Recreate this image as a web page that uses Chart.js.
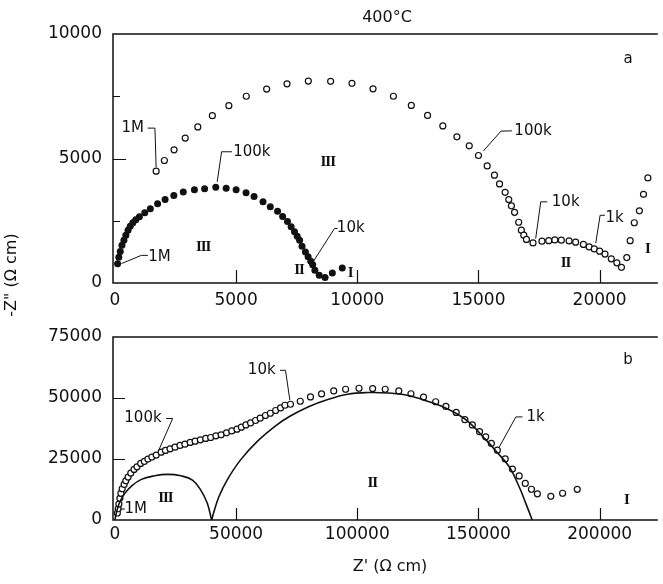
<!DOCTYPE html>
<html>
<head>
<meta charset="utf-8">
<script src="https://cdn.jsdelivr.net/npm/chart.js@4/dist/chart.umd.min.js"></script>
<style>
  html, body { margin: 0; padding: 0; background: #fff; }
  #wrap { position: relative; width: 663px; height: 584px; }
  #wrap canvas { position: absolute; left: 0; top: 0; }
</style>
</head>
<body>
<div id="wrap">
  <canvas id="chartA" width="663" height="584"></canvas>
  <canvas id="chartB" width="663" height="584"></canvas>
</div>
<script>
// panel a, open circles
const openA_x = [1700,2040,2440,2900,3420,4020,4700,5420,6260,7100,7980,8900,9780,10650,11490,12230,12900,13530,14110,14620,15000,15360,15660,15870,16100,16250,16360,16490,16660,16770,16870,16980,17250,17620,17900,18150,18420,18740,19010,19330,19570,19780,20000,20220,20480,20710,20900,21120,21260,21430,21640,21810,21990];
const openA_y = [4490,4920,5350,5820,6270,6720,7120,7500,7790,8000,8110,8100,8020,7800,7500,7130,6730,6310,5870,5510,5120,4700,4330,3980,3640,3350,3100,2840,2440,2120,1920,1750,1610,1680,1700,1730,1720,1690,1640,1550,1450,1370,1280,1160,970,810,630,1020,1700,2420,2900,3560,4220];

// panel a, filled circles
const filledA_x = [110,160,220,290,370,450,540,630,740,860,1010,1230,1460,1760,2070,2430,2820,3280,3700,4160,4590,5000,5410,5740,6110,6410,6710,6920,7120,7270,7410,7520,7620,7720,7860,7970,8080,8160,8250,8430,8670,8970,9380];
const filledA_y = [770,1030,1270,1520,1720,1920,2120,2280,2420,2540,2660,2820,2980,3180,3350,3510,3650,3740,3790,3850,3810,3750,3620,3470,3260,3060,2880,2670,2470,2260,2060,1880,1720,1480,1250,1050,870,730,510,310,220,400,600];

// panel b, open circles
const openB_x = [1000,1350,1630,2040,2450,2980,3800,4490,5430,6540,7880,9110,10620,12130,13600,15240,17030,19080,20830,22750,24800,26840,28880,31050,33090,35250,37460,39500,41670,43830,46040,48200,50370,52170,54040,55960,58010,59930,62090,64130,66300,68340,70140,72430,76470,80680,85250,90280,95180,100700,106330,111520,117120,122140,127330,132350,136560,140810,144400,147470,150450,152980,155310,157800,161030,164010,166790,169320,171860,174310,179860,184720,190770];
const openB_y = [2860,4620,6540,8880,10920,12800,14600,16070,17590,19220,20740,21800,23190,24010,24950,25770,26590,27810,28510,29160,29860,30550,31080,31780,32310,32840,33420,33820,34480,34890,35710,36520,37220,38040,38980,39800,40780,41720,42820,43760,44870,45930,47030,47440,48670,50430,51660,52880,53580,53990,53870,53580,52880,51740,50390,48470,46540,44090,41100,38980,36200,34070,31370,28630,25030,20860,18080,15010,12600,10720,9690,10960,12560];

// panel b, fitted arcs
const arcIII_x = [0,690,2040,4090,6820,10910,16340,21770,27250,31990,35420,38110,39900];
const arcIII_y = [0,3400,7490,10920,13910,16650,18120,18690,18120,16360,12270,6830,0];
const arcII_x = [39900,40850,42890,46280,51760,58540,66710,72000,79660,87830,96000,104170,112340,120510,128680,136850,145020,153190,157270,162710,166790,169530,172180];
const arcII_y = [0,3400,9530,16360,24540,32020,38900,42400,46340,49370,51530,52230,52070,51130,48790,45690,40900,32720,28200,21800,13620,6830,0];

// tick values
const xTicksA = [0,5000,10000,15000,20000];
const yTicksA = [0,5000,10000];
const yMinorA = [2500,7500];
const xTicksB = [0,50000,100000,150000,200000];
const yTicksB = [0,25000,50000,75000];

const INK = '#111';
const numFont = { family: 'DejaVu Sans', size: 17 };
const labelFont = '15px "DejaVu Sans"';
const romanFont = 'bold 15px "Liberation Serif"';

const pts = (xs, ys) => xs.map((x, i) => ({ x: x, y: ys[i] }));

// labels, leaders and ticks per panel
const decorations = {
  chartA: {
    xTicks: [5000,10000,15000,20000], yTicks: [5000], yMinor: yMinorA, tickLen: 13,
    notes: [
      { t: '1M', x: 735, y: 6220 },
      { t: '100k', x: 17250, y: 6110 },
      { t: '10k', x: 18600, y: 3260 },
      { t: '1k', x: 20620, y: 2590 },
      { t: 'III', x: 8780, y: 4870, roman: true },
      { t: 'II', x: 18590, y: 780, roman: true },
      { t: 'I', x: 21970, y: 1380, roman: true },
      { t: 'a', x: 21170, y: 8980 },
      { t: '100k', x: 5650, y: 5270 },
      { t: '1M', x: 1840, y: 1050 },
      { t: 'III', x: 3640, y: 1450, roman: true },
      { t: '10k', x: 9730, y: 2190 },
      { t: 'II', x: 7600, y: 510, roman: true },
      { t: 'I', x: 9710, y: 380, roman: true }
    ],
    leaders: [
      [[1350,6220],[1650,6220],[1700,4650]],
      [[16380,6110],[15930,6100],[15200,5300]],
      [[17840,3260],[17570,3260],[17360,1780]],
      [[20220,2720],[20020,2720],[19840,1600]],
      [[4830,5270],[4400,5270],[4220,4060]],
      [[1360,1110],[1090,1110],[270,780]],
      [[9190,2190],[9060,2190],[8170,840]]
    ],
    texts: [
      { t: '400\u00b0C', px: 387, py: 18, font: '16px "DejaVu Sans"' },
      { t: '-Z" (\u03a9 cm)', px: 12, py: 275, font: '16px "DejaVu Sans"', rot: true }
    ]
  },
  chartB: {
    xTicks: [50000,100000,150000,200000], yTicks: [25000,50000], yMinor: [], tickLen: 12,
    notes: [
      { t: 'b', x: 211720, y: 65440 },
      { t: '10k', x: 60580, y: 61350 },
      { t: '100k', x: 11560, y: 41600 },
      { t: '1M', x: 8580, y: 4500 },
      { t: 'III', x: 20830, y: 8880, roman: true },
      { t: 'II', x: 106210, y: 15260, roman: true },
      { t: 'I', x: 211070, y: 8180, roman: true },
      { t: '1k', x: 173610, y: 42250 }
    ],
    leaders: [
      [[68100,61350],[70380,61350],[72180,49080]],
      [[21120,41600],[23820,41600],[18100,28630]],
      [[2040,4500],[4085,4500]],
      [[168180,42250],[165440,42250],[158620,29980]]
    ],
    texts: [
      { t: "Z' (\u03a9 cm)", px: 390, py: 567, font: '16px "DejaVu Sans"' }
    ]
  }
};

const decor = {
  id: 'decor',
  afterDraw(chart) {
    const d = decorations[chart.canvas.id];
    const ctx = chart.ctx, xs = chart.scales.x, ys = chart.scales.y, a = chart.chartArea;
    ctx.save();
    ctx.strokeStyle = INK;
    ctx.lineWidth = 1.5;
    ctx.beginPath();
    ctx.moveTo(a.right, a.top); ctx.lineTo(a.left, a.top);
    ctx.lineTo(a.left, a.bottom); ctx.lineTo(a.right, a.bottom);
    ctx.stroke();

    ctx.lineWidth = 1.2;
    ctx.beginPath();
    d.xTicks.forEach(v => {
      const p = Math.round(xs.getPixelForValue(v)) + 0.5;
      ctx.moveTo(p, a.bottom); ctx.lineTo(p, a.bottom - d.tickLen);
    });
    d.yTicks.forEach(v => {
      const p = Math.round(ys.getPixelForValue(v)) + 0.5;
      ctx.moveTo(a.left, p); ctx.lineTo(a.left + d.tickLen, p);
    });
    d.yMinor.forEach(v => {
      const p = Math.round(ys.getPixelForValue(v)) + 0.5;
      ctx.moveTo(a.left, p); ctx.lineTo(a.left + 7, p);
    });
    ctx.stroke();

    // leader lines
    ctx.lineWidth = 1;
    d.leaders.forEach(path => {
      ctx.beginPath();
      path.forEach((q, i) => {
        const px = xs.getPixelForValue(q[0]), py = ys.getPixelForValue(q[1]);
        if (i === 0) ctx.moveTo(px, py); else ctx.lineTo(px, py);
      });
      ctx.stroke();
    });

    ctx.fillStyle = INK;
    ctx.textAlign = 'center';
    ctx.textBaseline = 'middle';
    d.notes.forEach(n => {
      ctx.font = n.roman ? romanFont : labelFont;
      ctx.letterSpacing = n.roman ? '-1px' : '0px';
      ctx.fillText(n.t, xs.getPixelForValue(n.x), ys.getPixelForValue(n.y));
    });
    ctx.letterSpacing = '0px';

    d.texts.forEach(n => {
      ctx.font = n.font;
      if (n.rot) {
        ctx.save();
        ctx.translate(n.px, n.py);
        ctx.rotate(-Math.PI / 2);
        ctx.fillText(n.t, 0, 0);
        ctx.restore();
      } else {
        ctx.fillText(n.t, n.px, n.py);
      }
    });
    ctx.restore();
  }
};

function axes(xMin, xMax, yMax, xTicks, yTicks, xPad, xBoxH) {
  return {
    x: {
      type: 'linear', min: xMin, max: xMax,
      grid: { display: false, drawTicks: false }, border: { display: false },
      afterBuildTicks: s => { s.ticks = xTicks.map(v => ({ value: v })); },
      afterFit: s => { s.height = xBoxH; },
      ticks: { color: INK, font: numFont, padding: xPad, maxRotation: 0, autoSkip: false, callback: v => String(v) }
    },
    y: {
      type: 'linear', min: 0, max: yMax,
      grid: { display: false, drawTicks: false }, border: { display: false },
      afterBuildTicks: s => { s.ticks = yTicks.map(v => ({ value: v })); },
      afterFit: s => { s.width = 113; },
      ticks: { color: INK, font: numFont, padding: 11, autoSkip: false, callback: v => String(v) }
    }
  };
}

const common = {
  responsive: false, animation: false, devicePixelRatio: 1,
  plugins: { legend: { display: false }, tooltip: { enabled: false } }
};

new Chart(document.getElementById('chartA'), {
  type: 'scatter',
  data: {
    datasets: [
      { data: pts(openA_x, openA_y), pointRadius: 3, borderWidth: 1.2, borderColor: INK, backgroundColor: '#fff' },
      { data: pts(filledA_x, filledA_y), pointRadius: 3.5, borderWidth: 0, borderColor: INK, backgroundColor: INK }
    ]
  },
  options: Object.assign({}, common, {
    layout: { padding: { top: 34, left: 0, right: 0, bottom: 0 } },
    scales: axes(-80, 22400, 10000, xTicksA, yTicksA, 7, 301)
  }),
  plugins: [decor]
});

new Chart(document.getElementById('chartB'), {
  type: 'scatter',
  data: {
    datasets: [
      { data: pts(arcIII_x, arcIII_y), showLine: true, pointRadius: 0, borderWidth: 1.6, borderColor: INK, tension: 0.4 },
      { data: pts(arcII_x, arcII_y), showLine: true, pointRadius: 0, borderWidth: 1.6, borderColor: INK, tension: 0.4 },
      { data: pts(openB_x, openB_y), pointRadius: 3, borderWidth: 1.2, borderColor: INK, backgroundColor: '#fff' }
    ]
  },
  options: Object.assign({}, common, {
    layout: { padding: { top: 337, left: 0, right: 0, bottom: 0 } },
    scales: axes(-800, 224000, 75000, xTicksB, yTicksB, 4, 64)
  }),
  plugins: [decor]
});
</script>
</body>
</html>
